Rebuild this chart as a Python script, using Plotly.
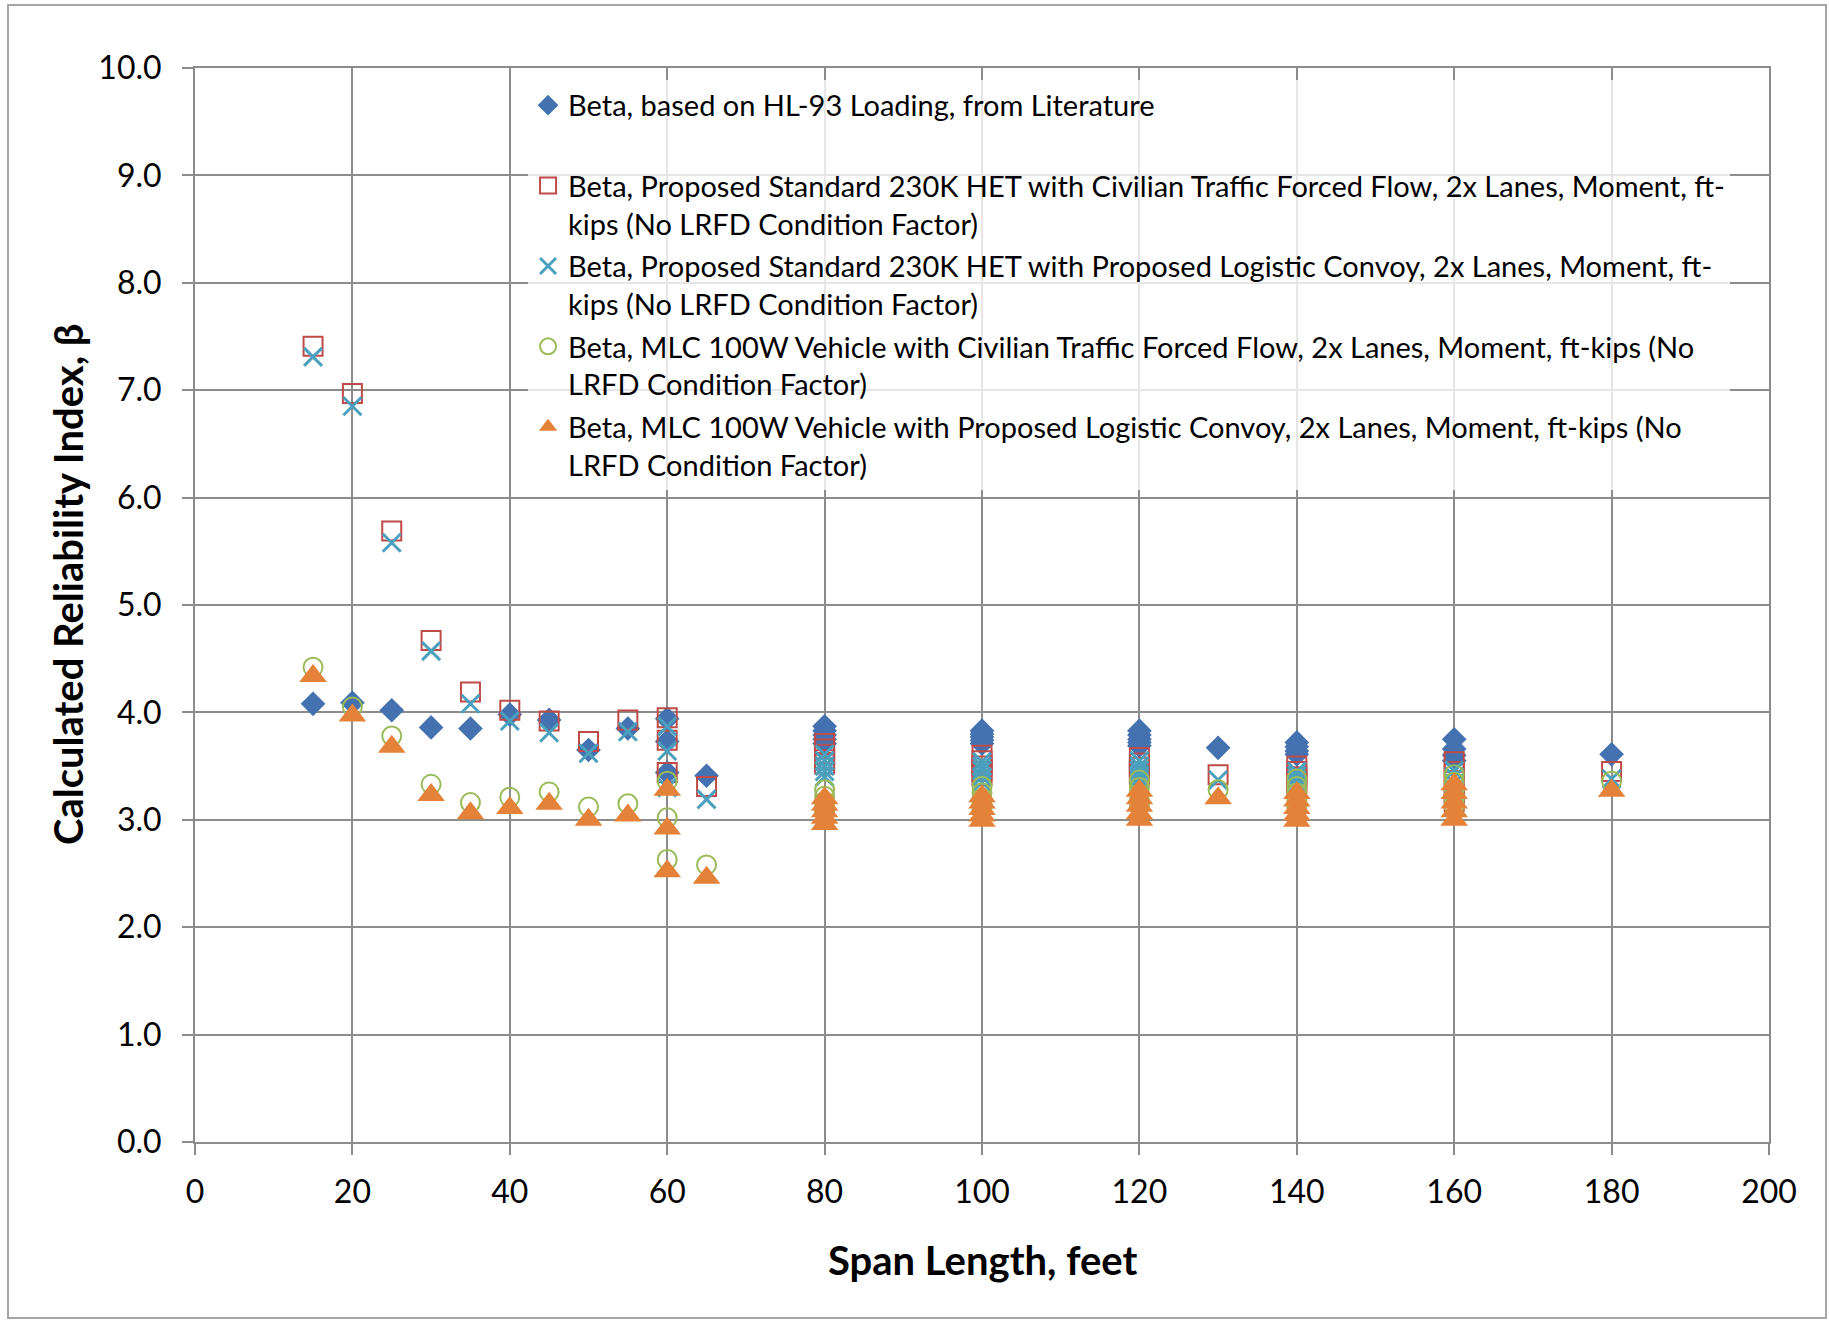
import plotly.graph_objects as go

# span lengths (feet) shared by the HET / MLC series
span = [15, 20, 25, 30, 35, 40, 45, 50, 55, 60, 60, 60, 65,
        80, 80, 80, 80, 80, 100, 100, 100, 100, 100,
        120, 120, 120, 120, 120, 130, 140, 140, 140, 140, 140,
        160, 160, 160, 160, 160, 180]

# the literature values have one point fewer at 140 and 160
span_lit = [15, 20, 25, 30, 35, 40, 45, 50, 55, 60, 60, 60, 65,
            80, 80, 80, 80, 80, 100, 100, 100, 100, 100,
            120, 120, 120, 120, 120, 130, 140, 140, 140, 140,
            160, 160, 160, 160, 180]

beta_hl93 = [4.08, 4.09, 4.02, 3.86, 3.85, 3.98, 3.93, 3.65, 3.85, 3.94, 3.73, 3.44, 3.41,
             3.87, 3.83, 3.79, 3.75, 3.71, 3.83, 3.80, 3.77, 3.74, 3.71,
             3.83, 3.79, 3.75, 3.72, 3.69, 3.67, 3.72, 3.68, 3.64, 3.61,
             3.75, 3.66, 3.60, 3.55, 3.61]

beta_het_civ = [7.41, 6.97, 5.69, 4.67, 4.19, 4.02, 3.92, 3.73, 3.93, 3.95, 3.74, 3.44, 3.31,
                3.71, 3.66, 3.61, 3.56, 3.52, 3.60, 3.55, 3.50, 3.45, 3.41,
                3.58, 3.53, 3.49, 3.45, 3.42, 3.42, 3.50, 3.45, 3.40, 3.36, 3.32,
                3.54, 3.45, 3.36, 3.26, 3.17, 3.45]

beta_het_convoy = [7.31, 6.85, 5.58, 4.57, 4.08, 3.92, 3.81, 3.62, 3.82, 3.87, 3.64, 3.30, 3.19,
                   3.61, 3.55, 3.50, 3.45, 3.40, 3.54, 3.50, 3.46, 3.40, 3.35,
                   3.55, 3.50, 3.46, 3.42, 3.38, 3.37, 3.45, 3.41, 3.37, 3.33, 3.29,
                   3.46, 3.40, 3.34, 3.28, 3.22, 3.38]

beta_mlc_civ = [4.42, 4.05, 3.78, 3.33, 3.16, 3.21, 3.26, 3.12, 3.15, 3.36, 3.02, 2.63, 2.58,
                3.28, 3.22, 3.17, 3.12, 3.08, 3.31, 3.25, 3.20, 3.15, 3.10,
                3.37, 3.30, 3.24, 3.18, 3.13, 3.28, 3.38, 3.31, 3.25, 3.18, 3.12,
                3.42, 3.35, 3.28, 3.20, 3.13, 3.36]

beta_mlc_convoy = [4.34, 3.97, 3.68, 3.23, 3.06, 3.11, 3.15, 3.00, 3.04, 3.28, 2.92, 2.52, 2.46,
                   3.20, 3.14, 3.08, 3.02, 2.96, 3.22, 3.16, 3.10, 3.04, 2.99,
                   3.27, 3.20, 3.13, 3.06, 3.00, 3.20, 3.25, 3.18, 3.11, 3.05, 2.99,
                   3.33, 3.25, 3.16, 3.08, 3.00, 3.27]

names = [
    'Beta, based on HL-93 Loading, from Literature<br> ',
    'Beta, Proposed Standard 230K HET with Civilian Traffic Forced Flow, 2x Lanes, Moment, ft-'
    '<br>kips (No LRFD Condition Factor)',
    'Beta, Proposed Standard 230K HET with Proposed Logistic Convoy, 2x Lanes, Moment, ft-'
    '<br>kips (No LRFD Condition Factor)',
    'Beta, MLC 100W Vehicle with Civilian Traffic Forced Flow, 2x Lanes, Moment, ft-kips (No'
    '<br>LRFD Condition Factor)',
    'Beta, MLC 100W Vehicle with Proposed Logistic Convoy, 2x Lanes, Moment, ft-kips (No'
    '<br>LRFD Condition Factor)',
]

GRID = '#8c8c8c'
FONT = 'Lato'


def plot():
    fig = go.Figure()

    fig.add_trace(go.Scatter(
        x=span_lit, y=beta_hl93, name=names[0], mode='markers', legendgroup='a',
        marker=dict(symbol='diamond', size=19, color='#4472B0')))
    fig.add_trace(go.Scatter(
        x=span, y=beta_het_civ, name=names[1], mode='markers', legendgroup='b',
        marker=dict(symbol='square-open', size=19, color='#BE4B48', line=dict(width=2))))
    fig.add_trace(go.Scatter(
        x=span, y=beta_het_convoy, name=names[2], mode='markers', legendgroup='c',
        marker=dict(symbol='x-thin', size=18, color='#4BA0BE', line=dict(width=3, color='#4BA0BE'))))
    fig.add_trace(go.Scatter(
        x=span, y=beta_mlc_civ, name=names[3], mode='markers', legendgroup='d',
        marker=dict(symbol='circle-open', size=19, color='#9BBB59', line=dict(width=2))))
    fig.add_trace(go.Scatter(
        x=span, y=beta_mlc_convoy, name=names[4], mode='markers', legendgroup='e',
        marker=dict(symbol='triangle-up', size=24, color='#E4823A')))

    axis = dict(showgrid=True, gridcolor=GRID, gridwidth=2, zeroline=False,
                showline=True, linecolor=GRID, linewidth=2, mirror=True,
                ticks='outside', ticklen=11, tickwidth=2, tickcolor=GRID,
                tickfont=dict(family=FONT, size=32, color='black'))

    fig.update_layout(
        width=1829, height=1320,
        margin=dict(l=195, r=60, t=68, b=178),
        paper_bgcolor='white', plot_bgcolor='white',
        font=dict(family=FONT, color='black'),
        xaxis=dict(axis, range=[0, 200], dtick=20, ticklabelstandoff=10),
        yaxis=dict(axis, range=[0, 10], dtick=1, tickformat='.1f', ticklabelstandoff=14),
        legend=dict(x=0.2116, y=0.989, xanchor='left', yanchor='top',
                    bgcolor='rgba(255,255,255,0.78)', font=dict(family=FONT, size=29),
                    valign='top', tracegroupgap=2, traceorder='grouped'),
        annotations=[
            dict(text='<b>Span Length, feet</b>', xref='paper', yref='paper',
                 x=0.5, y=-0.1099, xanchor='center', yanchor='middle',
                 showarrow=False, font=dict(size=40)),
            dict(text='<b>Calculated Reliability Index, β</b>', xref='paper', yref='paper',
                 x=-0.0807, y=0.5196, xanchor='center', yanchor='middle', textangle=-90,
                 showarrow=False, font=dict(size=40)),
        ],
        shapes=[dict(type='rect', xref='paper', yref='paper',
                     x0=-0.1188, x1=1.0362, y0=-0.1639, y1=1.0587,
                     line=dict(color='#a6a6a6', width=2))],
    )

    fig.write_html('out.html', config={'displayModeBar': False},
                   post_script="document.body.style.margin='0';")


if __name__ == "__main__":
    plot()
